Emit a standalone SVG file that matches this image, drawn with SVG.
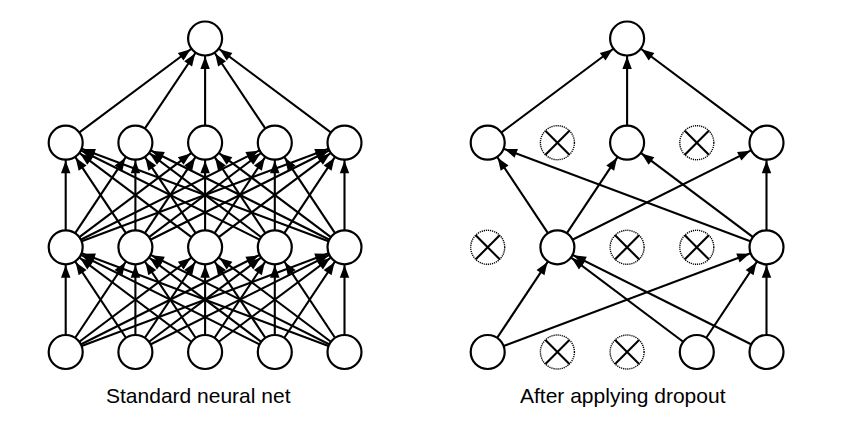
<svg xmlns="http://www.w3.org/2000/svg" width="844" height="438" viewBox="0 0 844 438">
<style>
.c{stroke:#000;stroke-width:2.1;fill:none;marker-end:url(#ah)}
.n{fill:#fff;stroke:#000;stroke-width:2.2}
.d{fill:#fff;stroke:#000;stroke-width:1.4;stroke-dasharray:1.2 0.9}
.x{stroke:#000;stroke-width:2.1}
.t{font-family:"Liberation Sans",Arial,sans-serif;font-size:21px;fill:#000}
</style>
<defs>
<marker id="ah" markerUnits="userSpaceOnUse" viewBox="0 0 31 10" markerWidth="31" markerHeight="10" refX="30.5" refY="4.75" orient="auto" overflow="visible">
<path d="M0,0 L12.5,4.75 L0,9.5 z" fill="#000"/>
</marker>
<circle id="nd" r="17" class="n"/>
<g id="dn"><circle r="17" class="d"/><line x1="-12" y1="-12" x2="12" y2="12" class="x"/><line x1="12" y1="-12" x2="-12" y2="12" class="x"/></g>
</defs>
<rect width="844" height="438" fill="#fff"/>
<g id="connectors">
<line class="c" x1="65.7" y1="142.7" x2="205.1" y2="38.5"/>
<line class="c" x1="135.4" y1="142.7" x2="205.1" y2="38.5"/>
<line class="c" x1="205.1" y1="142.7" x2="205.1" y2="38.5"/>
<line class="c" x1="274.8" y1="142.7" x2="205.1" y2="38.5"/>
<line class="c" x1="344.5" y1="142.7" x2="205.1" y2="38.5"/>
<line class="c" x1="65.7" y1="247.3" x2="65.7" y2="142.7"/>
<line class="c" x1="65.7" y1="247.3" x2="135.4" y2="142.7"/>
<line class="c" x1="65.7" y1="247.3" x2="205.1" y2="142.7"/>
<line class="c" x1="65.7" y1="247.3" x2="274.8" y2="142.7"/>
<line class="c" x1="65.7" y1="247.3" x2="344.5" y2="142.7"/>
<line class="c" x1="135.4" y1="247.3" x2="65.7" y2="142.7"/>
<line class="c" x1="135.4" y1="247.3" x2="135.4" y2="142.7"/>
<line class="c" x1="135.4" y1="247.3" x2="205.1" y2="142.7"/>
<line class="c" x1="135.4" y1="247.3" x2="274.8" y2="142.7"/>
<line class="c" x1="135.4" y1="247.3" x2="344.5" y2="142.7"/>
<line class="c" x1="205.1" y1="247.3" x2="65.7" y2="142.7"/>
<line class="c" x1="205.1" y1="247.3" x2="135.4" y2="142.7"/>
<line class="c" x1="205.1" y1="247.3" x2="205.1" y2="142.7"/>
<line class="c" x1="205.1" y1="247.3" x2="274.8" y2="142.7"/>
<line class="c" x1="205.1" y1="247.3" x2="344.5" y2="142.7"/>
<line class="c" x1="274.8" y1="247.3" x2="65.7" y2="142.7"/>
<line class="c" x1="274.8" y1="247.3" x2="135.4" y2="142.7"/>
<line class="c" x1="274.8" y1="247.3" x2="205.1" y2="142.7"/>
<line class="c" x1="274.8" y1="247.3" x2="274.8" y2="142.7"/>
<line class="c" x1="274.8" y1="247.3" x2="344.5" y2="142.7"/>
<line class="c" x1="344.5" y1="247.3" x2="65.7" y2="142.7"/>
<line class="c" x1="344.5" y1="247.3" x2="135.4" y2="142.7"/>
<line class="c" x1="344.5" y1="247.3" x2="205.1" y2="142.7"/>
<line class="c" x1="344.5" y1="247.3" x2="274.8" y2="142.7"/>
<line class="c" x1="344.5" y1="247.3" x2="344.5" y2="142.7"/>
<line class="c" x1="65.7" y1="352" x2="65.7" y2="247.3"/>
<line class="c" x1="65.7" y1="352" x2="135.4" y2="247.3"/>
<line class="c" x1="65.7" y1="352" x2="205.1" y2="247.3"/>
<line class="c" x1="65.7" y1="352" x2="274.8" y2="247.3"/>
<line class="c" x1="65.7" y1="352" x2="344.5" y2="247.3"/>
<line class="c" x1="135.4" y1="352" x2="65.7" y2="247.3"/>
<line class="c" x1="135.4" y1="352" x2="135.4" y2="247.3"/>
<line class="c" x1="135.4" y1="352" x2="205.1" y2="247.3"/>
<line class="c" x1="135.4" y1="352" x2="274.8" y2="247.3"/>
<line class="c" x1="135.4" y1="352" x2="344.5" y2="247.3"/>
<line class="c" x1="205.1" y1="352" x2="65.7" y2="247.3"/>
<line class="c" x1="205.1" y1="352" x2="135.4" y2="247.3"/>
<line class="c" x1="205.1" y1="352" x2="205.1" y2="247.3"/>
<line class="c" x1="205.1" y1="352" x2="274.8" y2="247.3"/>
<line class="c" x1="205.1" y1="352" x2="344.5" y2="247.3"/>
<line class="c" x1="274.8" y1="352" x2="65.7" y2="247.3"/>
<line class="c" x1="274.8" y1="352" x2="135.4" y2="247.3"/>
<line class="c" x1="274.8" y1="352" x2="205.1" y2="247.3"/>
<line class="c" x1="274.8" y1="352" x2="274.8" y2="247.3"/>
<line class="c" x1="274.8" y1="352" x2="344.5" y2="247.3"/>
<line class="c" x1="344.5" y1="352" x2="65.7" y2="247.3"/>
<line class="c" x1="344.5" y1="352" x2="135.4" y2="247.3"/>
<line class="c" x1="344.5" y1="352" x2="205.1" y2="247.3"/>
<line class="c" x1="344.5" y1="352" x2="274.8" y2="247.3"/>
<line class="c" x1="344.5" y1="352" x2="344.5" y2="247.3"/>
<line class="c" x1="487.7" y1="142.7" x2="627.1" y2="38.5"/>
<line class="c" x1="627.1" y1="142.7" x2="627.1" y2="38.5"/>
<line class="c" x1="766.5" y1="142.7" x2="627.1" y2="38.5"/>
<line class="c" x1="557.4" y1="247.3" x2="487.7" y2="142.7"/>
<line class="c" x1="557.4" y1="247.3" x2="627.1" y2="142.7"/>
<line class="c" x1="557.4" y1="247.3" x2="766.5" y2="142.7"/>
<line class="c" x1="766.5" y1="247.3" x2="487.7" y2="142.7"/>
<line class="c" x1="766.5" y1="247.3" x2="627.1" y2="142.7"/>
<line class="c" x1="766.5" y1="247.3" x2="766.5" y2="142.7"/>
<line class="c" x1="487.7" y1="352" x2="557.4" y2="247.3"/>
<line class="c" x1="487.7" y1="352" x2="766.5" y2="247.3"/>
<line class="c" x1="696.8" y1="352" x2="557.4" y2="247.3"/>
<line class="c" x1="696.8" y1="352" x2="766.5" y2="247.3"/>
<line class="c" x1="766.5" y1="352" x2="557.4" y2="247.3"/>
<line class="c" x1="766.5" y1="352" x2="766.5" y2="247.3"/>
</g>
<g id="L-top"><use href="#nd" x="205.1" y="38.5"/></g>
<g id="L-h1-0"><use href="#nd" x="65.7" y="142.7"/></g>
<g id="L-h1-1"><use href="#nd" x="135.4" y="142.7"/></g>
<g id="L-h1-2"><use href="#nd" x="205.1" y="142.7"/></g>
<g id="L-h1-3"><use href="#nd" x="274.8" y="142.7"/></g>
<g id="L-h1-4"><use href="#nd" x="344.5" y="142.7"/></g>
<g id="L-h2-0"><use href="#nd" x="65.7" y="247.3"/></g>
<g id="L-h2-1"><use href="#nd" x="135.4" y="247.3"/></g>
<g id="L-h2-2"><use href="#nd" x="205.1" y="247.3"/></g>
<g id="L-h2-3"><use href="#nd" x="274.8" y="247.3"/></g>
<g id="L-h2-4"><use href="#nd" x="344.5" y="247.3"/></g>
<g id="L-in-0"><use href="#nd" x="65.7" y="352"/></g>
<g id="L-in-1"><use href="#nd" x="135.4" y="352"/></g>
<g id="L-in-2"><use href="#nd" x="205.1" y="352"/></g>
<g id="L-in-3"><use href="#nd" x="274.8" y="352"/></g>
<g id="L-in-4"><use href="#nd" x="344.5" y="352"/></g>
<g id="R-top"><use href="#nd" x="627.1" y="38.5"/></g>
<g id="R-h1-0"><use href="#nd" x="487.7" y="142.7"/></g>
<g id="R-h1-1"><use href="#dn" x="557.4" y="142.7"/></g>
<g id="R-h1-2"><use href="#nd" x="627.1" y="142.7"/></g>
<g id="R-h1-3"><use href="#dn" x="696.8" y="142.7"/></g>
<g id="R-h1-4"><use href="#nd" x="766.5" y="142.7"/></g>
<g id="R-h2-0"><use href="#dn" x="487.7" y="247.3"/></g>
<g id="R-h2-1"><use href="#nd" x="557.4" y="247.3"/></g>
<g id="R-h2-2"><use href="#dn" x="627.1" y="247.3"/></g>
<g id="R-h2-3"><use href="#dn" x="696.8" y="247.3"/></g>
<g id="R-h2-4"><use href="#nd" x="766.5" y="247.3"/></g>
<g id="R-in-0"><use href="#nd" x="487.7" y="352"/></g>
<g id="R-in-1"><use href="#dn" x="557.4" y="352"/></g>
<g id="R-in-2"><use href="#dn" x="627.1" y="352"/></g>
<g id="R-in-3"><use href="#nd" x="696.8" y="352"/></g>
<g id="R-in-4"><use href="#nd" x="766.5" y="352"/></g>
<g id="labels">
<text class="t" x="106" y="403">Standard neural net</text>
<text class="t" x="520" y="403">After applying dropout</text>
</g>
</svg>
